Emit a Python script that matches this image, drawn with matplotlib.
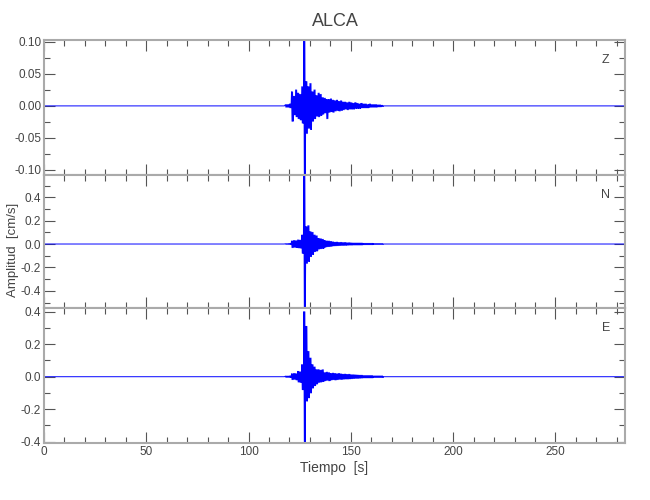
import numpy as np
import matplotlib
matplotlib.use("Agg")
import matplotlib.pyplot as plt
from matplotlib import font_manager
from matplotlib.ticker import MultipleLocator, FormatStrFormatter

# seconds of the strong-motion window (1 s bins, envelope)
t_event = np.arange(118, 166)
t_end = 284.0

z_hi = [0.002, 0.002, 0.003, 0.022, 0.015, 0.025, 0.020, 0.018, 0.030, 0.101,
        0.038, 0.030, 0.035, 0.022, 0.025, 0.016, 0.020, 0.018, 0.013, 0.012,
        0.010, 0.010, 0.011, 0.009, 0.008, 0.009, 0.007, 0.008, 0.006, 0.006,
        0.005, 0.006, 0.005, 0.004, 0.005, 0.004, 0.003, 0.004, 0.003, 0.003,
        0.002, 0.003, 0.002, 0.002, 0.002, 0.0015, 0.0015, 0.001]
z_lo = [-0.002, -0.002, -0.003, -0.024, -0.014, -0.017, -0.020, -0.022, -0.027, -0.106,
        -0.043, -0.035, -0.037, -0.024, -0.020, -0.016, -0.017, -0.015, -0.013, -0.011,
        -0.020, -0.010, -0.009, -0.010, -0.008, -0.007, -0.008, -0.007, -0.006, -0.005,
        -0.006, -0.005, -0.005, -0.005, -0.004, -0.004, -0.004, -0.003, -0.003, -0.003,
        -0.003, -0.002, -0.002, -0.002, -0.002, -0.0015, -0.0015, -0.001]

n_hi = [0.003, 0.003, 0.004, 0.026, 0.030, 0.028, 0.035, 0.033, 0.077, 0.580,
        0.148, 0.157, 0.105, 0.100, 0.077, 0.070, 0.048, 0.045, 0.040, 0.030,
        0.026, 0.025, 0.022, 0.018, 0.015, 0.016, 0.013, 0.014, 0.012, 0.013,
        0.010, 0.011, 0.009, 0.008, 0.008, 0.008, 0.008, 0.008, 0.006, 0.006,
        0.006, 0.006, 0.006, 0.004, 0.004, 0.004, 0.004, 0.004]
n_lo = [-0.003, -0.003, -0.004, -0.031, -0.028, -0.030, -0.033, -0.035, -0.080, -0.540,
        -0.165, -0.150, -0.108, -0.090, -0.065, -0.060, -0.043, -0.040, -0.038, -0.028,
        -0.023, -0.022, -0.020, -0.016, -0.015, -0.014, -0.013, -0.012, -0.012, -0.011,
        -0.010, -0.009, -0.009, -0.008, -0.008, -0.008, -0.008, -0.008, -0.006, -0.006,
        -0.006, -0.006, -0.006, -0.004, -0.004, -0.004, -0.004, -0.004]

e_hi = [0.004, 0.004, 0.005, 0.018, 0.020, 0.018, 0.033, 0.030, 0.074, 0.400,
        0.310, 0.156, 0.115, 0.074, 0.060, 0.043, 0.043, 0.040, 0.043, 0.025,
        0.028, 0.025, 0.020, 0.022, 0.020, 0.018, 0.020, 0.017, 0.015, 0.016,
        0.014, 0.015, 0.012, 0.012, 0.011, 0.010, 0.009, 0.009, 0.007, 0.007,
        0.007, 0.007, 0.007, 0.005, 0.005, 0.005, 0.005, 0.005]
e_lo = [-0.004, -0.004, -0.005, -0.018, -0.016, -0.020, -0.033, -0.035, -0.080, -0.400,
        -0.150, -0.130, -0.100, -0.070, -0.055, -0.045, -0.035, -0.033, -0.030, -0.025,
        -0.022, -0.025, -0.020, -0.018, -0.020, -0.018, -0.016, -0.017, -0.015, -0.014,
        -0.014, -0.013, -0.012, -0.011, -0.010, -0.010, -0.009, -0.008, -0.007, -0.007,
        -0.007, -0.007, -0.007, -0.005, -0.005, -0.005, -0.005, -0.005]

channels = ["Z", "N", "E"]
ylims = [(-0.108, 0.103), (-0.547, 0.59), (-0.408, 0.423)]
y_major = [0.05, 0.2, 0.2]
y_minor = [0.025, 0.1, 0.1]
y_fmt = ["%.2f", "%.1f", "%.1f"]

available = {f.name for f in font_manager.fontManager.ttflist}
family = "DejaVu Sans"
for name in ["Liberation Sans Narrow", "DejaVu Sans Condensed", "Liberation Sans"]:
    if name in available:
        family = name
        break
plt.rcParams["font.family"] = family
plt.rcParams["axes.unicode_minus"] = False

TEXT = "#444444"
SPINE = "#aaaaaa"


def trace(hi, lo):
    # each 1 s bin swings up and down twice between its envelope values
    t = np.column_stack([t_event, t_event + 0.25, t_event + 0.5, t_event + 0.75]).ravel()
    v = np.column_stack([hi, lo, hi, lo]).ravel()
    t = np.concatenate([[0.0, t_event[0] - 0.5], t, [t_event[-1] + 1, t_end]])
    v = np.concatenate([[0.0, 0.0], v, [0.0, 0.0]])
    return t, v


fig = plt.figure(figsize=(6.5, 5), dpi=100)
left, width = 44 / 650, (625 - 44) / 650
tops = [40, 175, 308]
bottoms = [175, 308, 443]
series = [(z_hi, z_lo), (n_hi, n_lo), (e_hi, e_lo)]

axes = []
for i, (hi, lo) in enumerate(series):
    b = 1 - bottoms[i] / 500
    h = (bottoms[i] - tops[i]) / 500
    ax = fig.add_axes([left, b, width, h])
    t, v = trace(hi, lo)
    ax.plot(t, v, color="#0000ff", lw=0.7)
    ax.set_xlim(0, t_end)
    ax.set_ylim(*ylims[i])
    ax.xaxis.set_major_locator(MultipleLocator(50))
    ax.xaxis.set_minor_locator(MultipleLocator(10))
    ax.yaxis.set_major_locator(MultipleLocator(y_major[i]))
    ax.yaxis.set_minor_locator(MultipleLocator(y_minor[i]))
    ax.yaxis.set_major_formatter(FormatStrFormatter(y_fmt[i]))
    ax.tick_params(which="both", direction="in", top=True, right=True,
                   color="#555555", labelcolor=TEXT, labelsize=8.5, width=0.8, pad=2)
    ax.tick_params(which="major", length=8)
    ax.tick_params(which="minor", length=4)
    for s in ax.spines.values():
        s.set_color(SPINE)
        s.set_linewidth(1.5)
    if i < 2:
        ax.tick_params(labelbottom=False)
    ax.text(0.967, 0.85, channels[i], transform=ax.transAxes, ha="center",
            va="center", fontsize=9, color=TEXT)
    axes.append(ax)

axes[2].set_xlabel("Tiempo  [s]", fontsize=10, color=TEXT, labelpad=2)
fig.text(335 / 650, 1 - 22 / 500, "ALCA", ha="center", va="center",
         fontsize=13, color=TEXT)
fig.text(13 / 650, 1 - 250 / 500, "Amplitud  [cm/s]", rotation=90,
         ha="center", va="center", fontsize=9.5, color=TEXT)

fig.savefig("out.png", dpi=100, facecolor="white")
